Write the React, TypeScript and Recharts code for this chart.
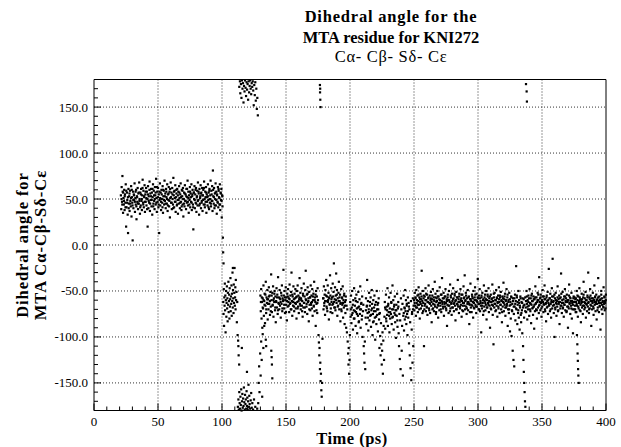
import { ScatterChart, Scatter, XAxis, YAxis, ReferenceLine } from "recharts";

type Pt = [number, number];

const xLabels = [0, 50, 100, 150, 200, 250, 300, 350, 400];
const xTicks = [
  0, 10, 20, 30, 40, 50, 60, 70, 80, 90, 100, 110, 120, 130, 140, 150, 160, 170, 180, 190, 200,
  210, 220, 230, 240, 250, 260, 270, 280, 290, 300, 310, 320, 330, 340, 350, 360, 370, 380, 390, 400,
];
const yLabels = [-150, -100, -50, 0, 50, 100, 150];
const yTicks = [
  -180, -170, -160, -150, -140, -130, -120, -110, -100, -90, -80, -70, -60, -50, -40, -30, -20, -10, 0,
  10, 20, 30, 40, 50, 60, 70, 80, 90, 100, 110, 120, 130, 140, 150, 160, 170, 180,
];

// 20-100 ps : the +50 deg well
const bandNear50: Pt[] = [
  [21.0,54],[21.3,39],[21.6,63],[21.9,47],[22.2,75],[22.4,58],[22.7,35],[23.0,51],[23.3,44],[23.6,60],
  [23.9,38],[24.2,55],[24.5,46],[24.8,66],[25.1,20],[25.4,41],[25.7,57],[26.0,49],[26.3,33],[26.6,13],
  [26.9,61],[27.2,45],[27.5,53],[27.8,37],[28.1,59],[28.4,48],[28.7,42],[29.0,64],[29.3,31],[29.6,52],
  [29.9,46],[30.2,5],[30.5,58],[30.8,40],[31.1,55],[31.4,49],[31.7,67],[32.0,36],[32.3,51],[32.6,44],
  [32.9,60],[33.2,28],[33.5,53],[33.8,47],[34.1,62],[34.4,39],[34.7,56],[35.0,45],[35.3,68],[35.6,50],
  [35.9,34],[36.2,57],[36.5,43],[36.8,61],[37.1,48],[37.4,38],[37.7,54],[38.0,71],[38.3,46],[38.6,59],
  [38.9,41],[39.2,52],[39.5,65],[39.8,36],[40.1,55],[40.4,47],[40.7,62],[41.0,43],[41.3,58],[41.6,50],
  [41.9,20],[42.2,64],[42.5,40],[42.8,53],[43.1,46],[43.4,69],[43.7,37],[44.0,56],[44.3,49],[44.6,61],
  [44.9,42],[45.2,57],[45.5,33],[45.8,52],[46.1,66],[46.4,45],[46.7,59],[47.0,48],[47.3,39],[47.6,63],
  [47.9,54],[48.2,44],[48.5,72],[48.8,51],[49.1,36],[49.4,58],[49.7,47],[50.0,62],[50.3,41],[50.6,55],
  [50.9,13],[51.2,49],[51.5,67],[51.8,43],[52.1,57],[52.4,38],[52.7,60],[53.0,50],[53.3,46],[53.6,64],
  [53.9,35],[54.2,53],[54.5,59],[54.8,44],[55.1,70],[55.4,48],[55.7,56],[56.0,40],[56.3,61],[56.6,52],
  [56.9,45],[57.2,66],[57.5,37],[57.8,55],[58.1,49],[58.4,63],[58.7,42],[59.0,58],[59.3,30],[59.6,51],
  [59.9,68],[60.2,46],[60.5,57],[60.8,39],[61.1,62],[61.4,50],[61.7,44],[62.0,73],[62.3,54],[62.6,41],
  [62.9,59],[63.2,47],[63.5,65],[63.8,36],[64.1,52],[64.4,56],[64.7,43],[65.0,61],[65.3,49],[65.6,34],
  [65.9,58],[66.2,45],[66.5,64],[66.8,51],[67.1,40],[67.4,55],[67.7,67],[68.0,47],[68.3,38],[68.6,60],
  [68.9,53],[69.2,44],[69.5,62],[69.8,31],[70.1,50],[70.4,57],[70.7,42],[71.0,65],[71.3,48],[71.6,55],
  [71.9,39],[72.2,61],[72.5,46],[72.8,52],[73.1,70],[73.4,43],[73.7,58],[74.0,35],[74.3,54],[74.6,49],
  [74.9,63],[75.2,41],[75.5,56],[75.8,47],[76.1,66],[76.4,38],[76.7,53],[77.0,60],[77.3,44],[77.6,17],
  [77.9,57],[78.2,50],[78.5,64],[78.8,40],[79.1,55],[79.4,46],[79.7,62],[80.0,36],[80.3,52],[80.6,59],
  [80.9,43],[81.2,68],[81.5,49],[81.8,56],[82.1,33],[82.4,61],[82.7,45],[83.0,53],[83.3,65],[83.6,40],
  [83.9,57],[84.2,48],[84.5,62],[84.8,37],[85.1,54],[85.4,60],[85.7,44],[86.0,69],[86.3,50],[86.6,41],
  [86.9,58],[87.2,47],[87.5,63],[87.8,35],[88.1,55],[88.4,52],[88.7,43],[89.0,66],[89.3,49],[89.6,57],
  [89.9,39],[90.2,61],[90.5,46],[90.8,54],[91.1,70],[91.4,42],[91.7,59],[92.0,48],[92.3,64],[92.6,37],
  [92.9,81],[93.2,53],[93.5,45],[93.8,62],[94.1,40],[94.4,56],[94.7,50],[95.0,67],[95.3,43],[95.6,58],
  [95.9,34],[96.2,55],[96.5,47],[96.8,63],[97.1,41],[97.4,59],[97.7,52],[98.0,44],[98.3,66],[98.6,38],
  [98.9,57],[99.2,49],[99.5,61],[99.8,30],[100.1,54],[100.4,42],[100.7,8],
];
const bandNear50Core: Pt[] = [
  [21.5,50],[22.1,44],[22.8,57],[23.4,48],[24.0,53],[24.6,41],[25.2,59],[25.9,46],[26.5,52],[27.1,40],
  [27.7,56],[28.3,45],[28.9,51],[29.5,60],[30.1,43],[30.7,49],[31.3,54],[31.9,47],[32.5,58],[33.1,42],
  [33.7,52],[34.3,45],[34.9,57],[35.5,48],[36.1,41],[36.7,55],[37.3,50],[37.9,62],[38.5,44],[39.1,53],
  [39.7,47],[40.3,58],[40.9,51],[41.5,39],[42.1,55],[42.7,48],[43.3,60],[43.9,45],[44.5,53],[45.1,49],
  [45.7,61],[46.3,42],[46.9,54],[47.5,50],[48.1,57],[48.7,46],[49.3,63],[49.9,52],[50.5,44],[51.1,58],
  [51.7,51],[52.3,47],[52.9,55],[53.5,41],[54.1,60],[54.7,49],[55.3,53],[55.9,45],[56.5,58],[57.1,50],
  [57.7,43],[58.3,56],[58.9,48],[59.5,61],[60.1,52],[60.7,46],[61.3,55],[61.9,40],[62.5,58],[63.1,51],
  [63.7,47],[64.3,60],[64.9,44],[65.5,54],[66.1,49],[66.7,57],[67.3,46],[67.9,52],[68.5,42],[69.1,59],
  [69.7,50],[70.3,45],[70.9,56],[71.5,48],[72.1,53],[72.7,61],[73.3,47],[73.9,51],[74.5,44],[75.1,58],
  [75.7,52],[76.3,46],[76.9,55],[77.5,41],[78.1,57],[78.7,49],[79.3,60],[79.9,45],[80.5,53],[81.1,48],
  [81.7,58],[82.3,43],[82.9,51],[83.5,56],[84.1,46],[84.7,54],[85.3,49],[85.9,62],[86.5,44],[87.1,52],
  [87.7,57],[88.3,47],[88.9,53],[89.5,41],[90.1,59],[90.7,50],[91.3,45],[91.9,55],[92.5,48],[93.1,60],
  [93.7,52],[94.3,43],[94.9,57],[95.5,49],[96.1,54],[96.7,46],[97.3,61],[97.9,51],[98.5,44],[99.1,56],
  [99.7,48],[100.3,53],
];

// 100-113 ps : jump into the -60 deg well
const wellNear60: Pt[] = [
  [100.9,-8],[101.2,-20],[108.5,-25],
  [101.0,-62],[101.2,-75],[101.4,-48],[101.6,-88],[101.8,-57],[102.0,-66],[102.2,-42],[102.4,-71],[102.6,-55],[102.8,-95],
  [103.0,-60],[103.2,-50],[103.4,-78],[103.6,-63],[103.8,-45],[104.0,-69],[104.2,-58],[104.4,-83],[104.6,-52],[104.8,-65],
  [105.0,-40],[105.2,-73],[105.4,-61],[105.6,-54],[105.8,-80],[106.0,-47],[106.2,-67],[106.4,-59],[106.6,-36],[106.8,-72],
  [107.0,-56],[107.2,-64],[107.4,-44],[107.6,-77],[107.8,-53],[108.0,-61],[108.2,-30],[108.4,-68],[108.6,-49],[108.8,-58],
  [109.0,-74],[109.2,-43],[109.4,-63],[109.6,-52],[109.8,-25],[110.0,-66],[110.2,-57],[110.4,-46],[110.6,-70],[110.8,-38],
  [111.0,-60],[111.3,-51],[111.6,-84],[111.9,-62],
  [112.2,-98],[112.6,-104],[112.8,-110],[113.0,-120],[113.4,-130],[115.5,-112],[119.5,-138],
];

// 112-128 ps : around +/-180
const wrapBottom: Pt[] = [
  [112.4,-176],[112.8,-168],[113.1,-179],[113.5,-160],[113.8,-172],[114.1,-178],[114.4,-165],[114.7,-174],[115.0,-157],[115.3,-180],
  [115.6,-170],[115.9,-162],[116.2,-177],[116.5,-167],[116.8,-175],[117.1,-155],[117.4,-171],[117.7,-179],[118.0,-163],[118.3,-173],
  [118.6,-168],[118.9,-178],[119.2,-159],[119.5,-175],[119.8,-166],[120.1,-179],[120.4,-170],[120.7,-152],[121.0,-176],[121.3,-164],
  [121.6,-173],[122.0,-178],[122.4,-169],[122.8,-161],[123.2,-177],[123.7,-172],[124.3,-179],[125.0,-168],[126.0,-176],[127.5,-178],
];
const wrapTop: Pt[] = [
  [113.5,172],[114.0,178],[114.3,165],[114.8,175],[115.2,160],[115.6,179],[116.0,170],[116.4,176],[116.8,155],[117.2,173],
  [117.6,167],[118.0,179],[118.4,171],[118.8,162],[119.2,177],[119.6,169],[120.0,175],[120.4,158],[120.8,178],[121.2,166],
  [121.6,173],[122.0,179],[122.4,170],[122.8,164],[123.2,176],[123.6,172],[124.0,178],[124.4,168],[124.8,152],[125.2,174],
  [125.6,163],[126.0,177],[126.4,157],[126.8,170],[127.2,148],[127.6,160],[128.0,141],
  [176.5,174],[176.6,166],[176.8,158],[177.0,150],[176.7,170],[337.5,175],[338.0,167],[338.2,156],
];

// 128-140 ps : coming back to -60
const shoulder130: Pt[] = [
  [128.3,-172],[128.6,-150],[129.0,-132],[129.3,-160],[129.8,-118],[130.2,-142],[130.6,-105],[131.0,-125],[131.4,-165],
  [131.8,-97],[132.3,-112],[133.0,-88],[134.2,-103],[134.5,-110],[138.5,-115],[138.8,-122],[139.0,-130],[139.3,-145],
];

// 130-200 ps
const plateauA: Pt[] = [
  [130.0,-55],[130.3,-72],[130.6,-48],[130.9,-80],[131.2,-62],[131.5,-90],[131.8,-58],[132.1,-69],[132.4,-44],[132.7,-77],
  [133.0,-61],[133.3,-53],[133.6,-85],[133.9,-66],[134.2,-40],[134.5,-74],[134.8,-57],[135.1,-63],[135.4,-49],[135.7,-81],
  [136.0,-59],[136.3,-70],[136.6,-46],[136.9,-64],[137.2,-55],[137.5,-76],[137.8,-51],[138.1,-67],[138.4,-32],[138.7,-60],
  [139.0,-73],[139.3,-52],[139.6,-65],[139.9,-45],[140.2,-78],[140.5,-58],[140.8,-62],[141.1,-50],[141.4,-71],[141.7,-56],
  [142.0,-84],[142.3,-61],[142.6,-47],[142.9,-68],[143.2,-54],[143.5,-75],[143.8,-35],[144.1,-63],[144.4,-57],[144.7,-70],
  [145.0,-49],[145.3,-66],[145.6,-59],[145.9,-79],[146.2,-52],[146.5,-64],[146.8,-44],[147.1,-72],[147.4,-58],[147.7,-61],
  [148.0,-27],[148.3,-55],[148.6,-69],[148.9,-50],[149.2,-74],[149.5,-60],[149.8,-46],[150.1,-65],[150.4,-57],[150.7,-82],
  [151.0,-53],[151.3,-67],[151.6,-48],[151.9,-62],[152.2,-58],[152.5,-73],[152.8,-43],[153.1,-64],[153.4,-55],[153.7,-70],
  [154.0,-51],[154.3,-30],[154.6,-61],[154.9,-77],[155.2,-56],[155.5,-66],[155.8,-45],[156.1,-59],[156.4,-72],[156.7,-53],
  [157.0,-63],[157.3,-48],[157.6,-69],[157.9,-57],[158.2,-80],[158.5,-50],[158.8,-62],[159.1,-44],[159.4,-67],[159.7,-55],
  [160.0,-74],[160.3,-59],[160.6,-36],[160.9,-64],[161.2,-52],[161.5,-70],[161.8,-58],[162.1,-47],[162.4,-66],[162.7,-61],
  [163.0,-78],[163.3,-53],[163.6,-68],[163.9,-42],[164.2,-63],[164.5,-56],[164.8,-73],[165.1,-49],[165.4,-28],[165.7,-60],
  [166.0,-67],[166.3,-54],[166.6,-75],[166.9,-46],[167.2,-62],[167.5,-58],[167.8,-83],[168.1,-51],[168.4,-65],[168.7,-57],
  [169.0,-71],[169.3,-44],[169.6,-63],[169.9,-55],[170.2,-69],[170.5,-48],[170.8,-77],[171.1,-60],[171.4,-53],[171.7,-66],
  [172.0,-40],[172.3,-72],[172.6,-57],[172.9,-62],[173.2,-88],[173.5,-50],[173.8,-64],[174.1,-56],[174.4,-74],[174.7,-47],
  [175.0,-60],[175.4,-98],[175.7,-106],[176.0,-120],[176.2,-112],[176.5,-135],[176.8,-128],[177.0,-148],[177.3,-140],[177.6,-158],
  [177.9,-165],[178.2,-150],[178.5,-102],[179.0,-58],[179.3,-70],[179.6,-45],[179.9,-63],[180.2,-54],[180.5,-76],[180.8,-49],
  [181.1,-61],[181.4,-38],[181.7,-67],[182.0,-56],[182.3,-72],[182.6,-44],[182.9,-60],[183.2,-52],[183.5,-81],[183.8,-58],
  [184.1,-65],[184.4,-33],[184.7,-55],[185.0,-69],[185.3,-47],[185.6,-62],[185.9,-57],[186.2,-74],[186.5,-42],[186.8,-64],
  [187.1,-51],[187.4,-20],[187.7,-68],[188.0,-59],[188.3,-46],[188.6,-71],[188.9,-55],[189.2,-31],[189.5,-63],[189.8,-49],
  [190.1,-77],[190.4,-58],[190.7,-66],[191.0,-52],[191.3,-40],[191.6,-70],[191.9,-61],[192.2,-54],[192.5,-83],[192.8,-63],
  [193.1,-48],[193.4,-72],[193.7,-57],[194.0,-65],[194.3,-45],[194.6,-79],[194.9,-60],[195.2,-68],[195.5,-53],[195.8,-86],
  [196.1,-62],[196.4,-74],[196.7,-56],[197.0,-90],[197.3,-66],[197.6,-95],[197.9,-70],[198.2,-105],[198.5,-118],[198.8,-130],
  [199.0,-112],[199.3,-140],[199.6,-125],[199.9,-98],
];
const plateauACore: Pt[] = [
  [130.4,-62],[131.1,-57],[131.8,-68],[132.5,-60],[133.2,-65],[133.9,-54],[134.6,-70],[135.3,-59],[136.0,-64],[136.7,-56],
  [137.4,-61],[138.1,-72],[138.8,-55],[139.5,-66],[140.2,-60],[140.9,-53],[141.6,-68],[142.3,-62],[143.0,-57],[143.7,-71],
  [144.4,-64],[145.1,-58],[145.8,-62],[146.5,-55],[147.2,-69],[147.9,-60],[148.6,-65],[149.3,-57],[150.0,-73],[150.7,-61],
  [151.4,-56],[152.1,-66],[152.8,-59],[153.5,-63],[154.2,-70],[154.9,-54],[155.6,-62],[156.3,-67],[157.0,-58],[157.7,-64],
  [158.4,-56],[159.1,-69],[159.8,-61],[160.5,-57],[161.2,-66],[161.9,-60],[162.6,-72],[163.3,-55],[164.0,-63],[164.7,-68],
  [165.4,-59],[166.1,-64],[166.8,-53],[167.5,-61],[168.2,-70],[168.9,-57],[169.6,-65],[170.3,-62],[171.0,-56],[171.7,-67],
  [172.4,-60],[173.1,-54],[173.8,-71],[174.5,-63],[179.2,-58],[179.9,-66],[180.6,-61],[181.3,-55],[182.0,-69],[182.7,-62],
  [183.4,-57],[184.1,-64],[184.8,-73],[185.5,-59],[186.2,-65],[186.9,-56],[187.6,-62],[188.3,-68],[189.0,-60],[189.7,-54],
  [190.4,-67],[191.1,-61],[191.8,-57],[192.5,-64],[193.2,-70],[193.9,-58],[194.6,-63],[195.3,-55],[196.0,-66],[196.7,-60],
];

// 200-250 ps
const plateauB: Pt[] = [
  [200.2,-62],[200.5,-78],[200.8,-55],[201.1,-85],[201.4,-68],[201.7,-50],[202.0,-74],[202.3,-92],[202.6,-60],[202.9,-71],
  [203.2,-47],[203.5,-80],[203.8,-66],[204.1,-58],[204.4,-88],[204.7,-73],[205.0,-54],[205.3,-69],[205.6,-96],[205.9,-62],
  [206.2,-77],[206.5,-51],[206.8,-84],[207.1,-67],[207.4,-59],[207.7,-75],[208.0,-45],[208.3,-90],[208.6,-70],[208.9,-63],
  [209.2,-81],[209.5,-56],[209.8,-100],[210.1,-72],[210.4,-65],[210.7,-110],[211.0,-118],[211.3,-128],[211.6,-105],[211.9,-135],
  [212.2,-79],[212.5,-58],[212.8,-86],[213.1,-67],[213.4,-38],[213.7,-74],[214.0,-61],[214.3,-93],[214.6,-70],[214.9,-52],
  [215.2,-82],[215.5,-66],[215.8,-77],[216.1,-57],[216.4,-89],[216.7,-71],[217.0,-49],[217.3,-64],[217.6,-98],[217.9,-75],
  [218.2,-60],[218.5,-83],[218.8,-68],[219.1,-55],[219.4,-79],[219.7,-103],[220.0,-72],[220.3,-62],[220.6,-86],[220.9,-50],
  [221.2,-76],[221.5,-65],[221.8,-94],[222.1,-70],[222.4,-58],[222.7,-81],[223.0,-112],[223.3,-74],[223.6,-99],[223.9,-120],
  [224.2,-85],[224.5,-108],[224.8,-130],[225.1,-115],[225.4,-95],[225.7,-140],[226.0,-104],[226.3,-88],[226.6,-125],[226.9,-78],
  [227.2,-62],[227.5,-91],[227.8,-70],[228.1,-54],[228.4,-83],[228.7,-67],[229.0,-76],[229.3,-47],[229.6,-88],[229.9,-64],
  [230.2,-73],[230.5,-57],[230.8,-95],[231.1,-69],[231.4,-80],[231.7,-52],[232.0,-75],[232.3,-63],[232.6,-86],[232.9,-70],
  [233.2,-44],[233.5,-78],[233.8,-60],[234.1,-92],[234.4,-67],[234.7,-74],[235.0,-56],[235.3,-84],[235.6,-71],[235.9,-101],
  [236.2,-65],[236.5,-77],[236.8,-53],[237.1,-89],[237.4,-69],[237.7,-62],[238.0,-96],[238.3,-110],[238.6,-75],[238.9,-124],
  [239.2,-82],[239.5,-135],[239.8,-58],[240.1,-70],[240.4,-115],[240.7,-88],[241.0,-64],[241.3,-142],[241.6,-77],[241.9,-55],
  [242.2,-93],[242.5,-68],[242.8,-81],[243.1,-49],[243.4,-72],[243.7,-60],[244.0,-86],[244.3,-66],[244.6,-75],[244.9,-98],
  [245.2,-57],[245.5,-79],[245.8,-63],[246.1,-107],[246.4,-70],[246.7,-120],[247.0,-84],[247.3,-134],[247.6,-61],[247.9,-147],
  [248.2,-92],[248.5,-73],[248.8,-128],[249.1,-58],[249.4,-110],[249.7,-66],
];
const plateauBCore: Pt[] = [
  [200.6,-70],[201.4,-76],[202.2,-65],[203.0,-80],[203.8,-72],[204.6,-61],[205.4,-75],[206.2,-68],[207.0,-83],[207.8,-70],
  [208.6,-64],[209.4,-77],[212.4,-71],[213.2,-66],[214.0,-79],[214.8,-73],[215.6,-62],[216.4,-76],[217.2,-69],[218.0,-84],
  [218.8,-72],[219.6,-65],[220.4,-78],[221.2,-70],[222.0,-63],[222.8,-75],[227.4,-68],[228.2,-80],[229.0,-71],[229.8,-66],
  [230.6,-77],[231.4,-73],[232.2,-62],[233.0,-79],[233.8,-70],[234.6,-65],[235.4,-76],[236.2,-71],[237.0,-82],[237.8,-67],
  [242.0,-74],[242.8,-69],[243.6,-78],[244.4,-64],[245.2,-72],[246.0,-67],[248.4,-75],[249.2,-70],
];

// 250-400 ps
const tailC: Pt[] = [
  [250.0,-60],[250.3,-71],[250.6,-52],[250.9,-66],[251.2,-58],[251.5,-77],[251.8,-49],[252.1,-63],[252.4,-68],[252.7,-55],
  [253.0,-73],[253.3,-61],[253.6,-46],[253.9,-65],[254.2,-57],[254.5,-80],[254.8,-62],[255.1,-53],[255.4,-69],[255.7,-59],
  [256.0,-28],[256.3,-66],[256.6,-74],[256.9,-50],[257.2,-63],[257.5,-58],[257.8,-110],[258.1,-70],[258.4,-56],[258.7,-64],
  [259.0,-47],[259.3,-72],[259.6,-60],[259.9,-67],[260.2,-54],[260.5,-76],[260.8,-62],[261.1,-58],[261.4,-44],[261.7,-69],
  [262.0,-63],[262.3,-55],[262.6,-74],[262.9,-60],[263.2,-51],[263.5,-66],[263.8,-84],[264.1,-59],[264.4,-70],[264.7,-48],
  [265.0,-64],[265.3,-57],[265.6,-72],[265.9,-61],[266.2,-40],[266.5,-67],[266.8,-53],[267.1,-75],[267.4,-62],[267.7,-58],
  [268.0,-68],[268.3,-50],[268.6,-65],[268.9,-79],[269.2,-56],[269.5,-63],[269.8,-71],[270.1,-46],[270.4,-60],[270.7,-66],
  [271.0,-54],[271.3,-73],[271.6,-61],[271.9,-36],[272.2,-64],[272.5,-58],[272.8,-69],[273.1,-52],[273.4,-77],[273.7,-62],
  [274.0,-56],[274.3,-67],[274.6,-48],[274.9,-63],[275.2,-71],[275.5,-59],[275.8,-88],[276.1,-65],[276.4,-54],[276.7,-60],
  [277.0,-74],[277.3,-50],[277.6,-66],[277.9,-62],[278.2,-43],[278.5,-69],[278.8,-57],[279.1,-64],[279.4,-76],[279.7,-53],
  [280.0,-61],[280.3,-68],[280.6,-47],[280.9,-58],[281.2,-72],[281.5,-63],[281.8,-55],[282.1,-66],[282.4,-82],[282.7,-60],
  [283.0,-51],[283.3,-70],[283.6,-64],[283.9,-57],[284.2,-38],[284.5,-67],[284.8,-59],[285.1,-74],[285.4,-53],[285.7,-62],
  [286.0,-69],[286.3,-48],[286.6,-65],[286.9,-58],[287.2,-78],[287.5,-61],[287.8,-54],[288.1,-66],[288.4,-72],[288.7,-45],
  [289.0,-63],[289.3,-57],[289.6,-33],[289.9,-70],[290.2,-60],[290.5,-52],[290.8,-67],[291.1,-75],[291.4,-58],[291.7,-64],
  [292.0,-49],[292.3,-71],[292.6,-62],[292.9,-56],[293.2,-86],[293.5,-65],[293.8,-59],[294.1,-42],[294.4,-68],[294.7,-61],
  [295.0,-73],[295.3,-54],[295.6,-66],[295.9,-58],[296.2,-79],[296.5,-50],[296.8,-63],[297.1,-69],[297.4,-57],[297.7,-46],
  [298.0,-65],[298.3,-60],[298.6,-74],[298.9,-53],[299.2,-67],[299.5,-62],[299.8,-37],[300.1,-58],[300.4,-70],[300.7,-55],
  [301.0,-64],[301.3,-48],[301.6,-72],[301.9,-61],[302.2,-66],[302.5,-95],[302.8,-57],[303.1,-69],[303.4,-52],[303.7,-63],
  [304.0,-76],[304.3,-59],[304.6,-44],[304.9,-67],[305.2,-61],[305.5,-54],[305.8,-71],[306.1,-65],[306.4,-50],[306.7,-81],
  [307.0,-60],[307.3,-68],[307.6,-56],[307.9,-63],[308.2,-47],[308.5,-73],[308.8,-58],[309.1,-66],[309.4,-90],[309.7,-62],
  [310.0,-54],[310.3,-70],[310.6,-59],[310.9,-65],[311.2,-43],[311.5,-76],[311.8,-61],[312.1,-108],[312.4,-57],[312.7,-68],
  [313.0,-52],[313.3,-64],[313.6,-72],[313.9,-60],[314.2,-49],[314.5,-66],[314.8,-58],[315.1,-78],[315.4,-63],[315.7,-55],
  [316.0,-69],[316.3,-46],[316.6,-62],[316.9,-74],[317.2,-57],[317.5,-65],[317.8,-51],[318.1,-70],[318.4,-60],[318.7,-84],
  [319.0,-56],[319.3,-67],[319.6,-62],[319.9,-41],[320.2,-72],[320.5,-59],[320.8,-65],[321.1,-53],[321.4,-77],[321.7,-61],
  [322.0,-68],[322.3,-48],[322.6,-64],[322.9,-57],[323.2,-88],[323.5,-70],[323.8,-60],[324.1,-74],[324.4,-52],[324.7,-66],
  [325.0,-94],[325.3,-62],[325.6,-80],[325.9,-56],[326.2,-99],[326.5,-71],[326.8,-64],[327.1,-115],[327.4,-58],[327.7,-125],
  [328.0,-75],[328.3,-132],[328.6,-67],[328.9,-54],[329.2,-82],[329.5,-61],[329.8,-23],[330.1,-70],[330.4,-57],[330.7,-86],
  [331.0,-65],[331.3,-74],[331.6,-50],[331.9,-79],[332.2,-63],[332.5,-92],[332.8,-68],[333.1,-56],[333.4,-76],[333.7,-84],
  [334.0,-62],[334.3,-71],[334.6,-96],[334.9,-58],[335.2,-110],[335.5,-125],[335.8,-138],[336.1,-150],[336.4,-160],[336.7,-170],
  [337.0,-176],[335.6,-66],[336.0,-79],[336.9,-57],[337.3,-68],[337.6,-73],[337.9,-50],[338.2,-64],[338.5,-81],[338.8,-60],
  [339.1,-70],[339.4,-55],[339.7,-66],[340.0,-77],[340.3,-48],[340.6,-63],[340.9,-72],[341.2,-58],[341.5,-85],[341.8,-65],
  [342.1,-53],[342.4,-69],[342.7,-61],[343.0,-76],[343.3,-56],[343.6,-67],[343.9,-91],[344.2,-59],[344.5,-72],[344.8,-45],
  [345.1,-64],[345.4,-70],[345.7,-57],[346.0,-80],[346.3,-62],[346.6,-52],[346.9,-68],[347.2,-60],[347.5,-74],[347.8,-35],
  [348.1,-65],[348.4,-58],[348.7,-71],[349.0,-54],[349.3,-63],[349.6,-78],[349.9,-60],[350.2,-67],[350.5,-49],[350.8,-62],
  [351.1,-73],[351.4,-56],[351.7,-65],[352.0,-44],[352.3,-70],[352.6,-59],[352.9,-64],[353.2,-83],[353.5,-57],[353.8,-68],
  [354.1,-61],[354.4,-51],[354.7,-75],[355.0,-63],[355.3,-26],[355.6,-66],[355.9,-58],[356.2,-72],[356.5,-53],[356.8,-64],
  [357.1,-79],[357.4,-60],[357.7,-47],[358.0,-69],[358.3,-15],[358.6,-62],[358.9,-56],[359.2,-74],[359.5,-65],[359.8,-100],
  [360.1,-58],[360.4,-70],[360.7,-52],[361.0,-63],[361.3,-77],[361.6,-61],[361.9,-67],[362.2,-45],[362.5,-72],[362.8,-59],
  [363.1,-64],[363.4,-55],[363.7,-86],[364.0,-62],[364.3,-69],[364.6,-57],[364.9,-31],[365.2,-66],[365.5,-74],[365.8,-60],
  [366.1,-51],[366.4,-68],[366.7,-63],[367.0,-78],[367.3,-56],[367.6,-65],[367.9,-48],[368.2,-71],[368.5,-61],[368.8,-58],
  [369.1,-73],[369.4,-54],[369.7,-67],[370.0,-62],[370.3,-90],[370.6,-60],[370.9,-69],[371.2,-43],[371.5,-64],[371.8,-57],
  [372.1,-75],[372.4,-61],[372.7,-66],[373.0,-52],[373.3,-80],[373.6,-63],[373.9,-70],[374.2,-96],[374.5,-58],[374.8,-62],
  [375.1,-70],[375.4,-57],[375.7,-66],[376.0,-59],[376.3,-73],[376.5,-62],[376.8,-73],[377.1,-50],[377.3,-98],[377.6,-108],
  [377.8,-118],[378.0,-126],[378.2,-135],[378.4,-142],[378.7,-150],[377.4,-66],[377.7,-60],[378.0,-78],[378.3,-56],[378.6,-69],
  [378.9,-63],[379.2,-47],[379.5,-71],[379.8,-59],[380.1,-65],[380.4,-84],[380.7,-61],[381.0,-53],[381.3,-68],[381.6,-62],
  [381.9,-75],[382.2,-57],[382.5,-40],[382.8,-66],[383.1,-70],[383.4,-58],[383.7,-63],[384.0,-51],[384.3,-79],[384.6,-64],
  [384.9,-60],[385.2,-72],[385.5,-55],[385.8,-67],[386.1,-30],[386.4,-62],[386.7,-74],[387.0,-57],[387.3,-69],[387.6,-48],
  [387.9,-65],[388.2,-61],[388.5,-88],[388.8,-58],[389.1,-70],[389.4,-63],[389.7,-52],[390.0,-67],[390.3,-76],[390.6,-60],
  [390.9,-44],[391.2,-65],[391.5,-57],[391.8,-72],[392.1,-62],[392.4,-54],[392.7,-81],[393.0,-64],[393.3,-59],[393.6,-68],
  [393.9,-36],[394.2,-61],[394.5,-73],[394.8,-56],[395.1,-66],[395.4,-60],[395.7,-92],[396.0,-63],[396.3,-50],[396.6,-70],
  [396.9,-58],[397.2,-75],[397.5,-62],[397.8,-67],[398.1,-46],[398.4,-64],[398.7,-57],[399.0,-71],[399.3,-61],[399.6,-69],
  [399.9,-54],
];
const tailCore: Pt[] = [
  [250.5,-63],[251.1,-57],[251.7,-68],[252.3,-60],[252.9,-65],[253.5,-54],[254.1,-70],[254.7,-59],[255.3,-64],[255.9,-56],
  [256.5,-61],[257.1,-72],[257.7,-55],[258.3,-66],[258.9,-60],[259.5,-53],[260.1,-68],[260.7,-62],[261.3,-57],[261.9,-71],
  [262.5,-64],[263.1,-58],[263.7,-62],[264.3,-55],[264.9,-69],[265.5,-60],[266.1,-65],[266.7,-57],[267.3,-73],[267.9,-61],
  [268.5,-56],[269.1,-66],[269.7,-59],[270.3,-63],[270.9,-70],[271.5,-54],[272.1,-62],[272.7,-67],[273.3,-58],[273.9,-64],
  [274.5,-56],[275.1,-69],[275.7,-61],[276.3,-57],[276.9,-66],[277.5,-60],[278.1,-72],[278.7,-55],[279.3,-63],[279.9,-68],
  [280.5,-59],[281.1,-64],[281.7,-53],[282.3,-61],[282.9,-70],[283.5,-57],[284.1,-65],[284.7,-62],[285.3,-56],[285.9,-67],
  [286.5,-60],[287.1,-54],[287.7,-71],[288.3,-63],[288.9,-58],[289.5,-66],[290.1,-61],[290.7,-55],[291.3,-69],[291.9,-62],
  [292.5,-57],[293.1,-64],[293.7,-73],[294.3,-59],[294.9,-65],[295.5,-56],[296.1,-62],[296.7,-68],[297.3,-60],[297.9,-54],
  [298.5,-67],[299.1,-61],[299.7,-57],[300.3,-64],[300.9,-70],[301.5,-58],[302.1,-63],[302.7,-55],[303.3,-66],[303.9,-60],
  [304.5,-72],[305.1,-57],[305.7,-63],[306.3,-59],[306.9,-68],[307.5,-54],[308.1,-65],[308.7,-61],[309.3,-56],[309.9,-69],
  [310.5,-62],[311.1,-58],[311.7,-66],[312.3,-53],[312.9,-64],[313.5,-60],[314.1,-71],[314.7,-57],[315.3,-62],[315.9,-67],
  [316.5,-59],[317.1,-55],[317.7,-65],[318.3,-61],[318.9,-73],[319.5,-58],[320.1,-63],[320.7,-56],[321.3,-68],[321.9,-60],
  [322.5,-66],[323.1,-54],[323.7,-62],[324.3,-70],[324.9,-59],[325.5,-65],[326.1,-57],[326.7,-72],[327.3,-61],[327.9,-67],
  [328.5,-58],[329.1,-64],[329.7,-69],[330.3,-55],[330.9,-62],[331.5,-71],[332.1,-60],[332.7,-66],[333.3,-58],[333.9,-74],
  [334.5,-63],[335.1,-68],[335.7,-59],[336.3,-65],[336.9,-72],[337.5,-61],[338.1,-56],[338.7,-67],[339.3,-62],[339.9,-58],
  [340.5,-70],[341.1,-64],[341.7,-55],[342.3,-61],[342.9,-68],[343.5,-59],[344.1,-65],[344.7,-57],[345.3,-63],[345.9,-71],
  [346.5,-60],[347.1,-54],[347.7,-66],[348.3,-62],[348.9,-57],[349.5,-69],[350.1,-61],[350.7,-56],[351.3,-64],[351.9,-59],
  [352.5,-72],[353.1,-63],[353.7,-55],[354.3,-67],[354.9,-60],[355.5,-65],[356.1,-58],[356.7,-70],[357.3,-62],[357.9,-56],
  [358.5,-66],[359.1,-61],[359.7,-54],[360.3,-68],[360.9,-60],[361.5,-64],[362.1,-57],[362.7,-71],[363.3,-62],[363.9,-58],
  [364.5,-66],[365.1,-53],[365.7,-63],[366.3,-69],[366.9,-59],[367.5,-65],[368.1,-56],[368.7,-62],[369.3,-72],[369.9,-60],
  [370.5,-67],[371.1,-55],[371.7,-63],[372.3,-58],[372.9,-69],[373.5,-61],[374.1,-65],[374.7,-56],[375.3,-62],[375.9,-70],
  [376.5,-58],[377.1,-64],[377.7,-55],[378.3,-67],[378.9,-61],[379.5,-57],[380.1,-72],[380.7,-63],[381.3,-59],[381.9,-66],
  [382.5,-54],[383.1,-62],[383.7,-68],[384.3,-60],[384.9,-65],[385.5,-57],[386.1,-63],[386.7,-70],[387.3,-59],[387.9,-55],
  [388.5,-66],[389.1,-61],[389.7,-58],[390.3,-69],[390.9,-62],[391.5,-56],[392.1,-64],[392.7,-60],[393.3,-71],[393.9,-57],
  [394.5,-63],[395.1,-67],[395.7,-59],[396.3,-54],[396.9,-65],[397.5,-61],[398.1,-68],[398.7,-56],[399.3,-63],[399.8,-60],
];

const segments = [
  bandNear50, bandNear50Core, wellNear60, wrapBottom, wrapTop, shoulder130,
  plateauA, plateauACore, plateauB, plateauBCore, tailC, tailCore,
];

const W = 621;
const H = 447;
const serif = "'Liberation Serif', 'Times New Roman', serif";

const Dot = (props: any) => {
  const { cx, cy } = props;
  if (cx == null || cy == null) return <g />;
  return <rect x={cx - 1.1} y={cy - 1.1} width={2.2} height={2.2} fill="#000" />;
};

const bottomTick = (props: any) => {
  const { x, y, payload } = props;
  const major = xLabels.includes(payload.value);
  return (
    <g>
      <line x1={x} x2={x} y1={y} y2={y - (major ? 7 : 4)} stroke="#000" />
      {major && (
        <text x={x} y={y + 15.5} textAnchor="middle" fontSize={13} fontFamily={serif} fill="#000">
          {payload.value}
        </text>
      )}
    </g>
  );
};

const topTick = (props: any) => {
  const { x, y, payload } = props;
  const major = xLabels.includes(payload.value);
  return <line x1={x} x2={x} y1={y} y2={y + (major ? 7 : 4)} stroke="#000" />;
};

const leftTick = (props: any) => {
  const { x, y, payload } = props;
  const major = yLabels.includes(payload.value);
  return (
    <g>
      <line x1={x} x2={x + (major ? 7 : 4)} y1={y} y2={y} stroke="#000" />
      {major && (
        <text x={x - 6} y={y + 4.5} textAnchor="end" fontSize={13} fontFamily={serif} fill="#000">
          {payload.value.toFixed(1)}
        </text>
      )}
    </g>
  );
};

const rightTick = (props: any) => {
  const { x, y, payload } = props;
  const major = yLabels.includes(payload.value);
  return <line x1={x} x2={x - (major ? 7 : 4)} y1={y} y2={y} stroke="#000" />;
};

export default function App() {
  return (
    <div style={{ position: "absolute", left: 0, top: 0, width: W, height: H, background: "#fff" }}>
      <ScatterChart
        width={W}
        height={H}
        margin={{ top: 69.5, right: 5, bottom: 6.5, left: 34 }}
      >
        <XAxis
          xAxisId="b"
          type="number"
          dataKey="t"
          domain={[0, 400]}
          ticks={xTicks}
          interval={0}
          height={30}
          tickSize={0}
          tickMargin={0}
          tickLine={false}
          axisLine={{ stroke: "#000" }}
          tick={bottomTick}
        />
        <XAxis
          xAxisId="t"
          orientation="top"
          type="number"
          domain={[0, 400]}
          ticks={xTicks}
          interval={0}
          height={10}
          tickSize={0}
          tickMargin={0}
          tickLine={false}
          axisLine={{ stroke: "#000" }}
          tick={topTick}
        />
        <YAxis
          yAxisId="l"
          type="number"
          dataKey="deg"
          domain={[-180, 180]}
          ticks={yTicks}
          interval={0}
          width={60}
          tickSize={0}
          tickMargin={0}
          tickLine={false}
          axisLine={{ stroke: "#000" }}
          tick={leftTick}
        />
        <YAxis
          yAxisId="r"
          orientation="right"
          type="number"
          domain={[-180, 180]}
          ticks={yTicks}
          interval={0}
          width={10}
          tickSize={0}
          tickMargin={0}
          tickLine={false}
          axisLine={{ stroke: "#000" }}
          tick={rightTick}
        />
        {xLabels.slice(1, -1).map((v) => (
          <ReferenceLine key={"gx" + v} x={v} xAxisId="b" yAxisId="l" stroke="#333" strokeDasharray="1 2" />
        ))}
        {yLabels.map((v) => (
          <ReferenceLine key={"gy" + v} y={v} xAxisId="b" yAxisId="l" stroke="#333" strokeDasharray="1 2" />
        ))}
        {segments.map((seg, i) => (
          <Scatter
            key={i}
            xAxisId="b"
            yAxisId="l"
            data={seg.map(([t, deg]) => ({ t, deg }))}
            shape={Dot}
            isAnimationActive={false}
          />
        ))}
      </ScatterChart>
      <svg
        width={W}
        height={H}
        style={{ position: "absolute", left: 0, top: 0, pointerEvents: "none" }}
        fontFamily={serif}
      >
        <text x={391} y={22} textAnchor="middle" fontSize={16.5} fontWeight="bold" letterSpacing={0.8}>
          Dihedral angle for the
        </text>
        <text x={391} y={42.5} textAnchor="middle" fontSize={16.5} fontWeight="bold">
          MTA residue for KNI272
        </text>
        <text x={391} y={62} textAnchor="middle" fontSize={16.5} letterSpacing={0.7}>
          Cα- Cβ- Sδ- Cε
        </text>
        <text x={352} y={443.5} textAnchor="middle" fontSize={16.5} fontWeight="bold" letterSpacing={0.5}>
          Time (ps)
        </text>
        <g transform="translate(28 245) rotate(-90)">
          <text x={0} y={0} textAnchor="middle" fontSize={16.5} fontWeight="bold" letterSpacing={0.9}>
            Dihedral angle for
          </text>
        </g>
        <g transform="translate(46 245) rotate(-90)">
          <text x={0} y={0} textAnchor="middle" fontSize={16.5} fontWeight="bold" letterSpacing={1}>
            MTA Cα-Cβ-Sδ-Cε
          </text>
        </g>
      </svg>
    </div>
  );
}
